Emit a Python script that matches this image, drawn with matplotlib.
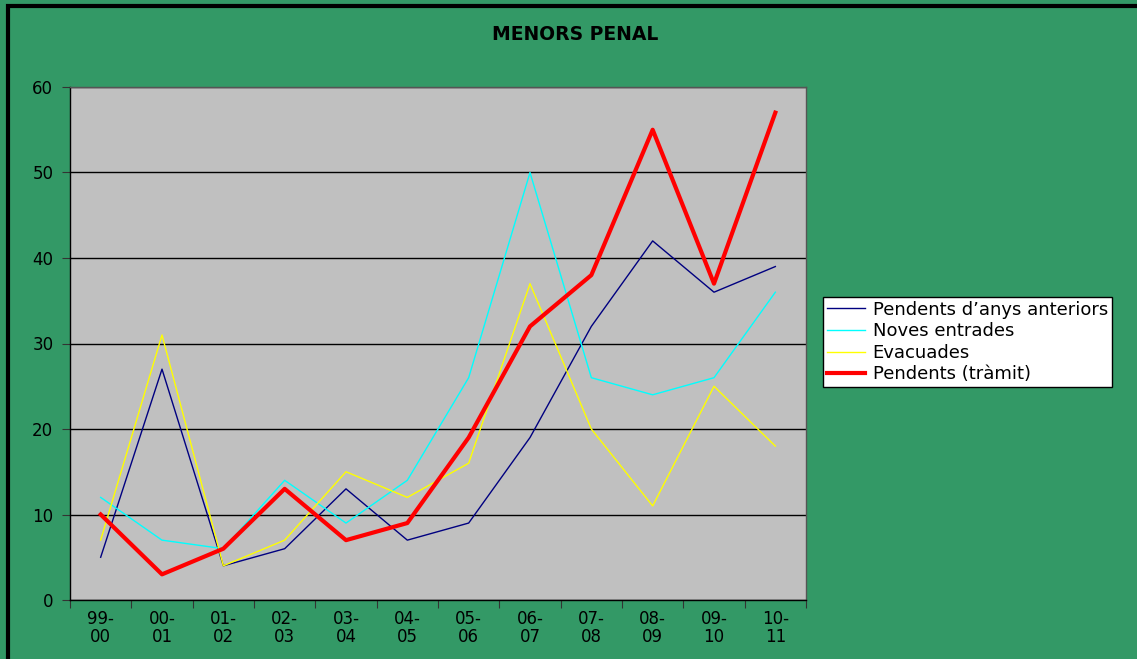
import numpy as np
import matplotlib.pyplot as plt
from matplotlib.patches import Rectangle

plt.rcParams['font.family'] = ['DejaVu Sans']

# data
periods = ['99-\n00', '00-\n01', '01-\n02', '02-\n03', '03-\n04', '04-\n05',
           '05-\n06', '06-\n07', '07-\n08', '08-\n09', '09-\n10', '10-\n11']
anteriors = [5, 27, 4, 6, 13, 7, 9, 19, 32, 42, 36, 39]
entrades = [12, 7, 6, 14, 9, 14, 26, 50, 26, 24, 26, 36]
evacuades = [7, 31, 4, 7, 15, 12, 16, 37, 20, 11, 25, 18]
pendents = [10, 3, 6, 13, 7, 9, 19, 32, 38, 55, 37, 57]

fig = plt.figure(figsize=(11.37, 6.59), dpi=100, facecolor='#339966')
# outer black frame (only left/top visible)
fig.patches.append(Rectangle((8 / 1137, -0.05), 1.1, 1 - 6 / 659 + 0.05,
                             transform=fig.transFigure, fill=False,
                             edgecolor='black', linewidth=3, zorder=0))

ax = fig.add_axes([70 / 1137, 1 - 600 / 659, 736 / 1137, 513 / 659])
ax.set_facecolor('#c0c0c0')

x = np.arange(len(periods))
ax.plot(x, anteriors, color='#000080', lw=1, label="Pendents d\u2019anys anteriors")
ax.plot(x, entrades, color='#00ffff', lw=1, label='Noves entrades')
ax.plot(x, evacuades, color='#ffff00', lw=1, label='Evacuades')
ax.plot(x, pendents, color='#ff0000', lw=3, label='Pendents (tr\u00e0mit)')

ax.set_xlim(-0.5, len(periods) - 0.5)
ax.set_ylim(0, 60)
ax.set_yticks(range(0, 61, 10))
ax.set_xticks(np.arange(-0.5, len(periods), 1))
ax.set_xticklabels([])
ax.set_xticks(x, minor=True)
ax.set_xticklabels(periods, minor=True, fontsize=12, linespacing=1.05)
ax.tick_params(axis='x', which='minor', length=0, pad=7)
ax.tick_params(axis='x', which='major', length=6, direction='out', color='#333333')
ax.tick_params(axis='y', length=6, direction='out', labelsize=12, pad=6,
               color='#333333')
ax.yaxis.grid(True, color='black', lw=1)
ax.set_axisbelow(True)
for s in ax.spines.values():
    s.set_color('#555555')
    s.set_linewidth(1)
ax.spines['left'].set_color('black')
ax.spines['bottom'].set_color('black')

fig.text(575 / 1137, 1 - 34 / 659, 'MENORS PENAL', ha='center', va='center',
         fontsize=13.5, fontweight='bold')

leg = fig.legend(loc='upper left', bbox_to_anchor=(823 / 1137, 1 - 297 / 659),
                 fontsize=13, frameon=True, fancybox=False, framealpha=1,
                 borderpad=0.2, labelspacing=0.2, handlelength=2.1,
                 handletextpad=0.45, borderaxespad=0)
leg.get_frame().set_edgecolor('black')
leg.get_frame().set_facecolor('white')
leg.get_frame().set_linewidth(1)

fig.savefig('out.png', dpi=100, facecolor=fig.get_facecolor())
